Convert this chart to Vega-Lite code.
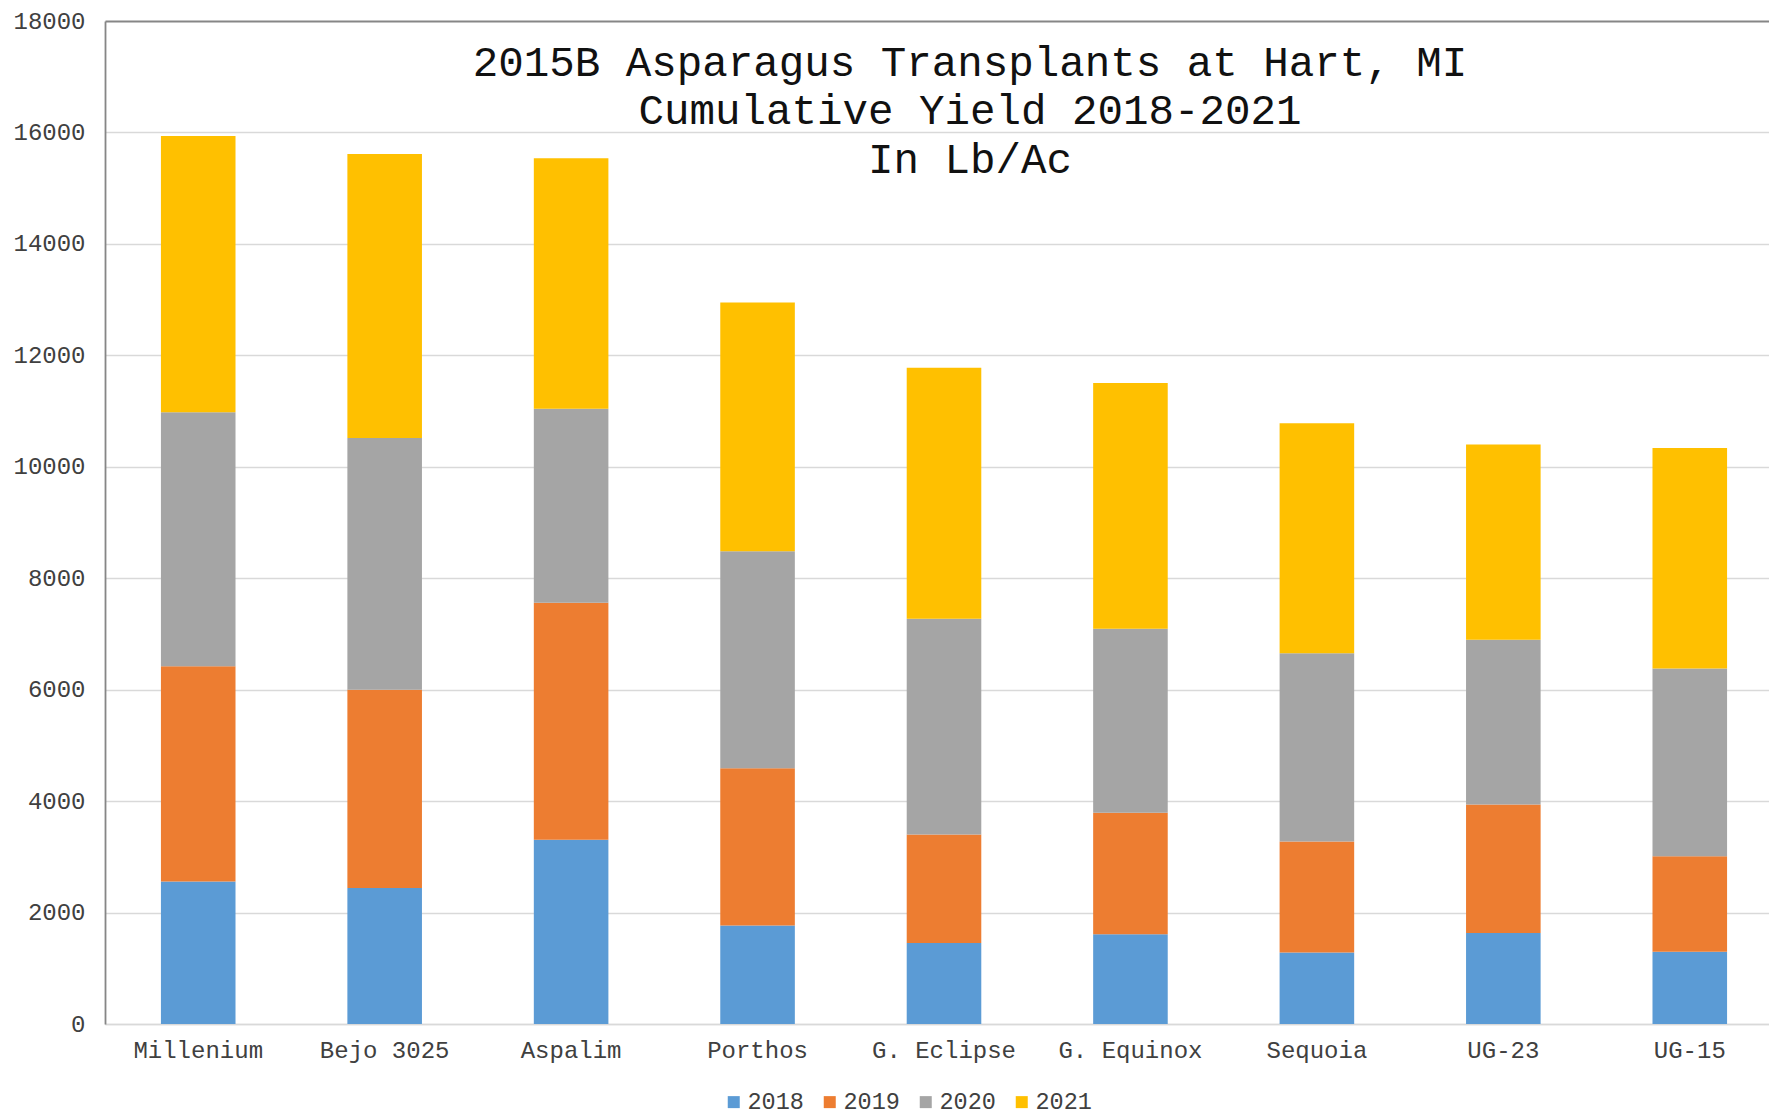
{
  "$schema": "https://vega.github.io/schema/vega-lite/v6.json",
  "width": 1664,
  "height": 1003,
  "autosize": {"type": "none"},
  "padding": {"left": 105, "top": 21, "right": 0, "bottom": 93},
  "background": "white",
  "config": {"view": {"stroke": null}},
  "title": {
    "text": ["2015B Asparagus Transplants at Hart, MI", "Cumulative Yield 2018-2021", "In Lb/Ac"],
    "font": "Liberation Mono",
    "fontSize": 42.5,
    "fontWeight": "normal",
    "color": "#111111",
    "lineHeight": 48.5,
    "anchor": "middle",
    "frame": "group",
    "baseline": "top",
    "offset": 0,
    "dx": 33,
    "dy": 172
  },
  "data": {
    "values": [
      {"variety": "Millenium", "year": "2018", "value": 2558},
      {"variety": "Millenium", "year": "2019", "value": 3863},
      {"variety": "Millenium", "year": "2020", "value": 4558},
      {"variety": "Millenium", "year": "2021", "value": 4958},
      {"variety": "Bejo 3025", "year": "2018", "value": 2442},
      {"variety": "Bejo 3025", "year": "2019", "value": 3558},
      {"variety": "Bejo 3025", "year": "2020", "value": 4516},
      {"variety": "Bejo 3025", "year": "2021", "value": 5095},
      {"variety": "Aspalim", "year": "2018", "value": 3305},
      {"variety": "Aspalim", "year": "2019", "value": 4253},
      {"variety": "Aspalim", "year": "2020", "value": 3484},
      {"variety": "Aspalim", "year": "2021", "value": 4495},
      {"variety": "Porthos", "year": "2018", "value": 1768},
      {"variety": "Porthos", "year": "2019", "value": 2821},
      {"variety": "Porthos", "year": "2020", "value": 3895},
      {"variety": "Porthos", "year": "2021", "value": 4463},
      {"variety": "G. Eclipse", "year": "2018", "value": 1453},
      {"variety": "G. Eclipse", "year": "2019", "value": 1947},
      {"variety": "G. Eclipse", "year": "2020", "value": 3874},
      {"variety": "G. Eclipse", "year": "2021", "value": 4505},
      {"variety": "G. Equinox", "year": "2018", "value": 1611},
      {"variety": "G. Equinox", "year": "2019", "value": 2178},
      {"variety": "G. Equinox", "year": "2020", "value": 3306},
      {"variety": "G. Equinox", "year": "2021", "value": 4410},
      {"variety": "Sequoia", "year": "2018", "value": 1284},
      {"variety": "Sequoia", "year": "2019", "value": 1990},
      {"variety": "Sequoia", "year": "2020", "value": 3379},
      {"variety": "Sequoia", "year": "2021", "value": 4126},
      {"variety": "UG-23", "year": "2018", "value": 1632},
      {"variety": "UG-23", "year": "2019", "value": 2305},
      {"variety": "UG-23", "year": "2020", "value": 2958},
      {"variety": "UG-23", "year": "2021", "value": 3505},
      {"variety": "UG-15", "year": "2018", "value": 1295},
      {"variety": "UG-15", "year": "2019", "value": 1716},
      {"variety": "UG-15", "year": "2020", "value": 3368},
      {"variety": "UG-15", "year": "2021", "value": 3958}
    ]
  },
  "mark": {"type": "bar"},
  "encoding": {
    "x": {
      "field": "variety",
      "type": "nominal",
      "sort": null,
      "scale": {"range": [0, 1678], "paddingInner": 0.6, "paddingOuter": 0.3},
      "axis": {
        "title": null,
        "labelAngle": 0,
        "labelFont": "Liberation Mono",
        "labelFontSize": 24,
        "labelColor": "#404040",
        "ticks": false,
        "labelPadding": 14,
        "domainColor": "#d9d9d9",
        "domainWidth": 1.5,
        "grid": false
      }
    },
    "y": {
      "field": "value",
      "type": "quantitative",
      "aggregate": "sum",
      "stack": "zero",
      "scale": {"domain": [0, 18000], "nice": false},
      "axis": {
        "title": null,
        "values": [0, 2000, 4000, 6000, 8000, 10000, 12000, 14000, 16000, 18000],
        "format": "d",
        "labelFont": "Liberation Mono",
        "labelFontSize": 24,
        "labelColor": "#404040",
        "ticks": false,
        "labelPadding": 20,
        "domainColor": "#868686",
        "domainWidth": 1.8,
        "grid": true,
        "gridColor": {"condition": {"test": "datum.value == 18000", "value": "#868686"}, "value": "#d9d9d9"},
        "gridWidth": {"condition": {"test": "datum.value == 18000", "value": 1.8}, "value": 1.3}
      }
    },
    "color": {
      "field": "year",
      "type": "nominal",
      "scale": {"domain": ["2018", "2019", "2020", "2021"], "range": ["#5B9BD5", "#ED7D31", "#A5A5A5", "#FFC000"]},
      "legend": {
        "title": null,
        "orient": "none",
        "direction": "horizontal",
        "legendX": 617,
        "legendY": 1069,
        "symbolType": "square",
        "symbolSize": 144,
        "symbolStrokeWidth": 0,
        "labelFont": "Liberation Mono",
        "labelFontSize": 23.5,
        "labelColor": "#404040",
        "labelOffset": 2,
        "columnPadding": 14
      }
    },
    "order": {"field": "year", "type": "ordinal"}
  }
}
